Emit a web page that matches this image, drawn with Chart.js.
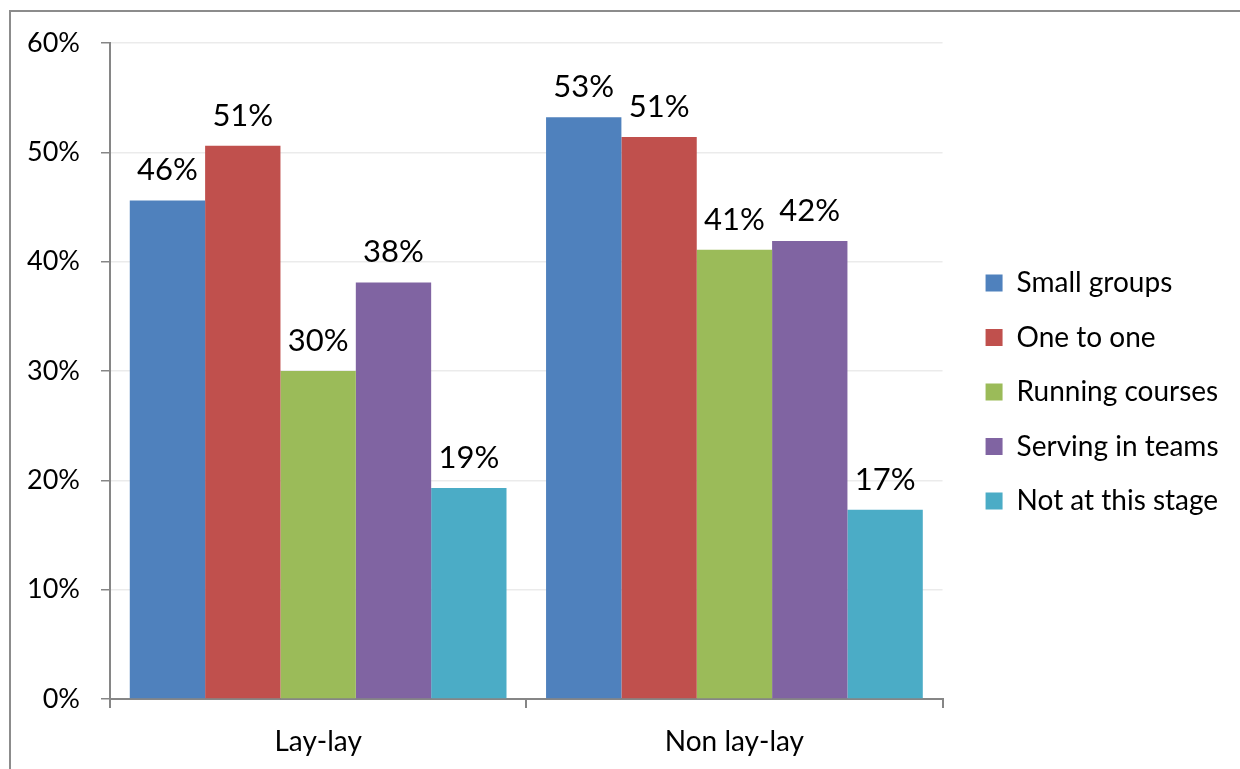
<!DOCTYPE html>
<html>
<head>
<meta charset="utf-8">
<script src="https://cdn.jsdelivr.net/npm/chart.js@4/dist/chart.umd.min.js"></script>
<style>
  body { margin: 0; background: #fff; overflow: hidden; }
  #wrap { position: relative; width: 1240px; height: 769px; }
  #frame { position: absolute; left: 9px; top: 10px; width: 1300px; height: 800px; border: 2px solid #8c8c8c; }
  #c { position: absolute; left: 0; top: 0; }
</style>
</head>
<body>
<div id="wrap">
  <div id="frame"></div>
  <canvas id="c" width="1240" height="769"></canvas>
</div>
<script>
const categories = ['Lay-lay', 'Non lay-lay'];
const seriesNames = ['Small groups', 'One to one', 'Running courses', 'Serving in teams', 'Not at this stage'];
const smallGroups = [45.6, 53.2];
const oneToOne = [50.6, 51.4];
const runningCourses = [30.0, 41.1];
const servingInTeams = [38.1, 41.9];
const notAtThisStage = [19.3, 17.3];
const yTicks = [0, 10, 20, 30, 40, 50, 60];

const colors = ['#4F81BD', '#C0504D', '#9BBB59', '#8064A2', '#4BACC6'];
const allSeries = [smallGroups, oneToOne, runningCourses, servingInTeams, notAtThisStage];
const font = 'Lato, "Open Sans", sans-serif';

// value labels above each bar
const barLabels = {
  id: 'barLabels',
  afterDatasetsDraw(chart) {
    const ctx = chart.ctx;
    ctx.save();
    ctx.font = '31px ' + font;
    ctx.fillStyle = '#000';
    ctx.textAlign = 'center';
    ctx.textBaseline = 'alphabetic';
    chart.data.datasets.forEach((ds, i) => {
      chart.getDatasetMeta(i).data.forEach((bar, j) => {
        ctx.fillText(Math.round(ds.data[j]) + '%', bar.x, bar.y - 20);
      });
    });
    ctx.restore();
  }
};

// move the legend a little, the way Excel places it
const legendNudge = {
  id: 'legendNudge',
  afterLayout(chart) {
    const l = chart.legend;
    l.left += 16.5; l.right += 16.5;
    l.top -= 14; l.bottom -= 14;
  }
};

new Chart(document.getElementById('c'), {
  type: 'bar',
  data: {
    labels: categories,
    datasets: seriesNames.map((name, i) => ({
      label: name,
      data: allSeries[i],
      backgroundColor: colors[i],
      borderWidth: 0,
      categoryPercentage: 0.905,
      barPercentage: 1
    }))
  },
  options: {
    responsive: false,
    animation: false,
    devicePixelRatio: 1,
    layout: { padding: { top: 43, right: 28, bottom: 0, left: 0 } },
    plugins: {
      tooltip: { enabled: false },
      legend: {
        position: 'right',
        labels: {
          boxWidth: 17,
          boxHeight: 17,
          padding: 26.5,
          color: '#000',
          font: { size: 28, family: font }
        }
      }
    },
    scales: {
      y: {
        min: 0,
        max: 60,
        afterFit: s => { s.width = 110; },
        afterBuildTicks: s => { s.ticks = yTicks.map(v => ({ value: v })); },
        ticks: {
          callback: v => v + '%',
          color: '#000',
          padding: 21,
          font: { size: 27, family: font }
        },
        grid: { color: '#ebebeb', lineWidth: 1.5, tickColor: '#868686', tickLength: 9 },
        border: { color: '#868686', width: 2 }
      },
      x: {
        afterFit: s => { s.height = 70; },
        ticks: {
          color: '#000',
          padding: 17,
          font: { size: 28, family: font }
        },
        grid: { drawOnChartArea: false, tickColor: '#868686', tickLength: 9, lineWidth: 2, offset: true },
        border: { color: '#868686', width: 2 }
      }
    }
  },
  plugins: [barLabels, legendNudge]
});
</script>
</body>
</html>
